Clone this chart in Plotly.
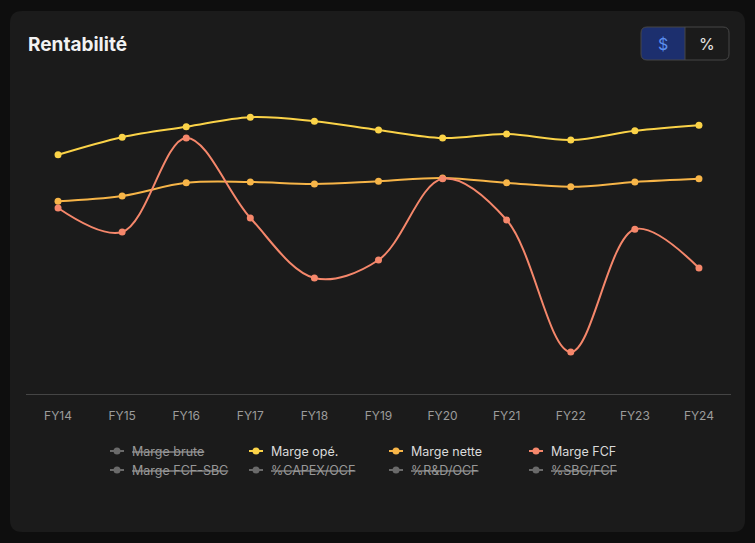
import plotly.graph_objects as go

# ---------------- data ----------------
years = ["FY14", "FY15", "FY16", "FY17", "FY18", "FY19", "FY20", "FY21", "FY22", "FY23", "FY24"]
marge_ope = [29.9, 32.1, 33.4, 34.6, 34.1, 33.0, 32.0, 32.5, 31.75, 32.9, 33.6]
marge_nette = [24.1, 24.75, 26.4, 26.5, 26.25, 26.6, 27.0, 26.4, 25.9, 26.5, 26.9]
marge_fcf = [23.25, 20.25, 32.0, 22.0, 14.5, 16.75, 26.9, 21.75, 5.25, 20.6, 15.75]

visible_series = [
    ("Marge opé.", marge_ope, "#FBD348"),
    ("Marge nette", marge_nette, "#F7B548"),
    ("Marge FCF", marge_fcf, "#F5876B"),
]
legend_rows = [
    [("Marge brute", False), ("Marge opé.", True), ("Marge nette", True), ("Marge FCF", True)],
    [("Marge FCF-SBC", False), ("%CAPEX/OCF", False), ("%R&D/OCF", False), ("%SBC/FCF", False)],
]
series_colors = {n: c for n, _, c in visible_series}

# ---------------- geometry ----------------
FW, FH = 755, 543
L, R, T, B = 26, 24, 74, 149
PW = FW - L - R
PH = FH - T - B
PLOT_BOTTOM = FH - B


def px(x):
    return (x - L) / PW


def py(y):
    return (PLOT_BOTTOM - y) / PH


fig = go.Figure()
for name, vals, col in visible_series:
    fig.add_trace(go.Scatter(
        x=years, y=vals, name=name, mode="lines+markers",
        line=dict(color=col, width=2, shape="spline", smoothing=1.0),
        marker=dict(color=col, size=7),
        showlegend=False,
    ))

shapes = []
annotations = []


def rounded_rect(x0, y0, x1, y1, r):
    X0, X1 = px(x0), px(x1)
    Y0, Y1 = py(y0), py(y1)
    rx, ry = r / PW, r / PH
    return (f"M {X0+rx},{Y0} L {X1-rx},{Y0} Q {X1},{Y0} {X1},{Y0-ry} "
            f"L {X1},{Y1+ry} Q {X1},{Y1} {X1-rx},{Y1} L {X0+rx},{Y1} "
            f"Q {X0},{Y1} {X0},{Y1+ry} L {X0},{Y0-ry} Q {X0},{Y0} {X0+rx},{Y0} Z")


# card
shapes.append(dict(type="path", xref="paper", yref="paper", layer="below",
                   path=rounded_rect(10, 11, 745, 532, 12),
                   fillcolor="#1B1B1B", line=dict(width=0)))

# toggle button
bx0, bx1, bmid, by0, by1, br = 641, 729, 685, 27, 60, 6
X0, XM = px(bx0), px(bmid)
Y0, Y1 = py(by0), py(by1)
rx, ry = br / PW, br / PH
shapes.append(dict(type="path", xref="paper", yref="paper",
                   path=(f"M {XM},{Y0} L {X0+rx},{Y0} Q {X0},{Y0} {X0},{Y0-ry} "
                         f"L {X0},{Y1+ry} Q {X0},{Y1} {X0+rx},{Y1} L {XM},{Y1} Z"),
                   fillcolor="#1C2F6E", line=dict(width=0)))
shapes.append(dict(type="path", xref="paper", yref="paper",
                   path=rounded_rect(bx0, by0, bx1, by1, br),
                   fillcolor="rgba(0,0,0,0)", line=dict(color="#474747", width=1)))
shapes.append(dict(type="line", xref="paper", yref="paper",
                   x0=px(bmid), x1=px(bmid), y0=py(by0), y1=py(by1),
                   line=dict(color="#474747", width=1)))
annotations.append(dict(text="$", x=px((bx0 + bmid) / 2), y=py(44), xref="paper", yref="paper",
                        showarrow=False, xanchor="center", yanchor="middle",
                        font=dict(family="Inter", size=16, color="#5A8EF0")))
annotations.append(dict(text="%", x=px((bmid + bx1) / 2), y=py(44), xref="paper", yref="paper",
                        showarrow=False, xanchor="center", yanchor="middle",
                        font=dict(family="Inter", size=16, color="#E6E6E6")))

# title
annotations.append(dict(text="<b>Rentabilité</b>", x=px(26), y=py(44), xref="paper", yref="paper",
                        showarrow=False, xanchor="left", yanchor="middle",
                        font=dict(family="Inter", size=19, color="#F2F2F2")))

# custom legend
col_x = [117, 256, 396, 536]
row_y = [451, 470]
for ri, row in enumerate(legend_rows):
    for ci, (name, vis) in enumerate(row):
        cx, cy = col_x[ci], row_y[ri]
        mcol = series_colors.get(name, "#6A6A6A") if vis else "#6A6A6A"
        shapes.append(dict(type="line", xref="paper", yref="paper",
                           x0=px(cx - 7), x1=px(cx + 7), y0=py(cy), y1=py(cy),
                           line=dict(color=mcol, width=2)))
        shapes.append(dict(type="circle", xref="paper", yref="paper",
                           x0=px(cx - 3.5), x1=px(cx + 3.5), y0=py(cy - 3.5), y1=py(cy + 3.5),
                           fillcolor=mcol, line=dict(width=0)))
        font = dict(family="Inter", size=12.5, color="#DADADA" if vis else "#989898")
        if not vis:
            font["lineposition"] = "through"
        annotations.append(dict(text=name, x=px(cx + 13), y=py(cy), xref="paper", yref="paper",
                                showarrow=False, xanchor="left", yanchor="middle", font=font))

fig.update_layout(
    width=FW, height=FH,
    margin=dict(l=L, r=R, t=T, b=B, pad=0),
    paper_bgcolor="#0E0E0E",
    plot_bgcolor="#1B1B1B",
    showlegend=False,
    shapes=shapes,
    annotations=annotations,
    xaxis=dict(
        type="category", range=[-0.5, 10.5], showgrid=False, zeroline=False,
        showline=True, linecolor="#454545", linewidth=1, ticks="",
        ticklabelstandoff=11,
        tickfont=dict(family="Inter", size=12, color="#9C9C9C"),
        fixedrange=True,
    ),
    yaxis=dict(range=[0, 40], visible=False, showgrid=False, zeroline=False, fixedrange=True),
    hovermode=False,
)

fig.write_html("out.html", config={"displayModeBar": False})
